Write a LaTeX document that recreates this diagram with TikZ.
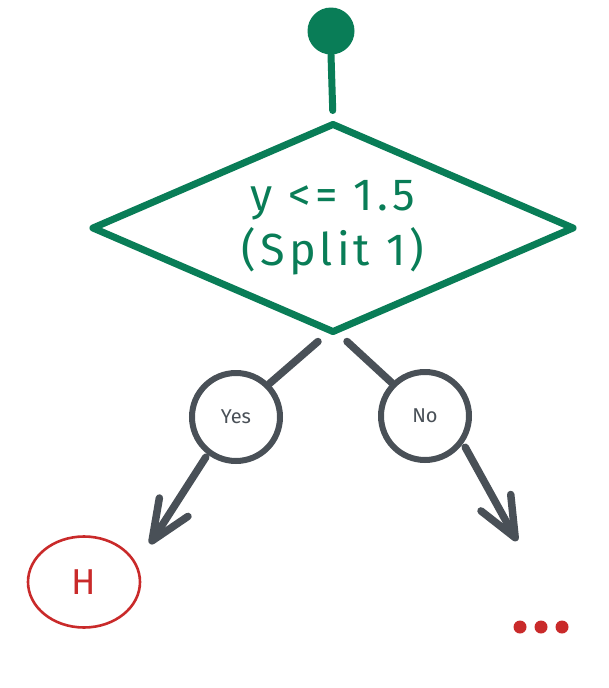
\documentclass[tikz,border=0pt]{standalone}
\usepackage{fontspec}
\setmainfont{Fira Sans}
\newfontfamily\sketchfont{Fira Sans}[LetterSpace=9]
\usepackage{xcolor}
\usepackage{tikz}
\usetikzlibrary{shapes.geometric, arrows.meta, positioning, calc}
\definecolor{splitgreen}{RGB}{9,125,87}
\definecolor{branchgray}{RGB}{73,80,87}
\definecolor{leafred}{RGB}{201,42,42}

\begin{document}
\begin{tikzpicture}[
  x=1pt,y=-1pt,
  decision/.style={
    diamond, aspect=2.3, inner sep=0pt, line width=7pt, line join=round,
    draw=splitgreen, text=splitgreen,
    minimum width=483pt, minimum height=210pt,
    align=center, font=\sketchfont\fontsize{45}{55}\selectfont
  },
  branch/.style={
    circle, line width=6pt, draw=branchgray, text=branchgray,
    minimum size=88pt, inner sep=0pt, font=\fontsize{20}{22}\selectfont
  },
  leaf/.style={
    ellipse, line width=2.6pt, draw=leafred, text=leafred,
    minimum width=112pt, minimum height=91pt, font=\fontsize{36}{38}\selectfont
  },
  edge/.style={line width=7.5pt, line cap=round, draw=branchgray},
  arrow/.style={edge, -{Straight Barb[length=40pt, width=34pt, line width=7.5pt, round]}}
]
\useasboundingbox (0,0) rectangle (608,688);

% ---- fixed positions ----
\node[circle, fill=splitgreen, minimum size=47pt, inner sep=0pt] (root) at (331,31) {};
\node[decision]          (split) at (333,228) {y <= 1.5\\(Split 1)};
\node[branch]            (yes)   at (236,417) {Yes};
\node[branch]            (no)    at (425,416) {No};
\node[leaf]              (leafH) at (84,582)  {H};
\coordinate (yesTip) at (150,544);
\coordinate (noTip)  at (517,541);
\coordinate (more)   at (520,627);

% ---- connectors ----
\draw[line width=7pt, line cap=round, draw=splitgreen, shorten >=9pt] (root.south) -- (split.north);
\draw[edge] ($(split.south)+(-15,5)$) -- (yes.north east);
\draw[edge] ($(split.south)+(14,5)$) -- (no.north west);
\draw[arrow] ($(yes.south west)+(3,7)$) -- (yesTip);
\draw[arrow] ($(no.south east)+(7,-2)$) -- (noTip);

% ---- dots for the unexpanded branch ----
\foreach \i in {0,1,2}
  \fill[leafred] ($(more)+(21*\i,0)$) circle (6.5);

\end{tikzpicture}
\end{document}
